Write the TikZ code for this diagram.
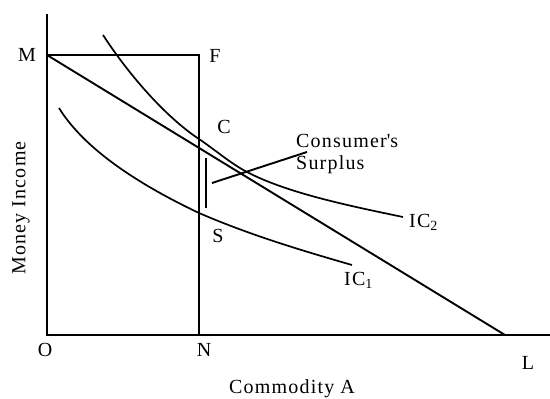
\documentclass[tikz,border=0pt]{standalone}
\usepackage{fontspec}
\setmainfont{Liberation Serif}[LetterSpace=6]
\begin{document}
\begin{tikzpicture}[x=1pt,y=-1pt,
  ln/.style={line width=1.9pt},
  lbl/.style={inner sep=0pt,font=\fontsize{20}{23}\selectfont},
  curve/.style={line width=1.7pt}]
\useasboundingbox (0,0) rectangle (550,399);
% key points
\coordinate (Ytop) at (47,14);
\coordinate (O) at (47,335);
\coordinate (Xend) at (550,335);
\coordinate (M) at (47,55);
\coordinate (F) at (199,55);
\coordinate (N) at (199,335);
\coordinate (L) at (505,335);
\coordinate (barT) at (206,158);
\coordinate (barB) at (206,208);
\coordinate (ptrA) at (212,183);
\coordinate (ptrB) at (307,152);
\coordinate (ic1s) at (59,108);
\coordinate (ic1m) at (199,213);
\coordinate (ic1e) at (352,265);
\coordinate (ic2s) at (103,35);
\coordinate (ic2a) at (199,139);
\coordinate (ic2b) at (247,172);
\coordinate (ic2e) at (403,217);
% axes and lines
\draw[ln] (Ytop) -- (O) -- (Xend);
\draw[ln] (M) -- (F) -- (N);
\draw[ln] (M) -- (L);
% indifference curves
\draw[curve] (ic1s) .. controls (85,150) and (140,185) .. (ic1m)
   .. controls (250,235) and (300,250) .. (ic1e);
\draw[curve] (ic2s) .. controls (133,81) and (170,120) .. (ic2a)
   .. controls (216,150.5) and (230,163) .. (ic2b)
   .. controls (287,193) and (350,206) .. (ic2e);
% consumer's surplus marker
\draw[line width=2.8pt] (barT) -- (barB);
\draw[ln] (ptrA) -- (ptrB);
% labels
\node[lbl] (lM) at (27,55) {M};
\node[lbl] (lF) at (215,56) {F};
\node[lbl] (lC) at (224,127) {C};
\node[lbl] (lS) at (218,236) {S};
\node[lbl] (lO) at (45,350) {O};
\node[lbl] (lN) at (204,350) {N};
\node[lbl] (lL) at (528,363) {L};
\node[lbl,anchor=base west] (lCS1) at (296,147) {Consumer\textquotesingle s};
\node[lbl,anchor=base west] (lCS2) at (296,169) {Surplus};
\node[lbl,anchor=base west] (lIC2) at (409,227) {IC\textsubscript{2}};
\node[lbl,anchor=base west] (lIC1) at (344,285) {IC\textsubscript{1}};
\node[lbl] (lX) at (292,389) {Commodity A};
\node[lbl,rotate=90] (lY) at (21,208) {Money Income};
\end{tikzpicture}
\end{document}
